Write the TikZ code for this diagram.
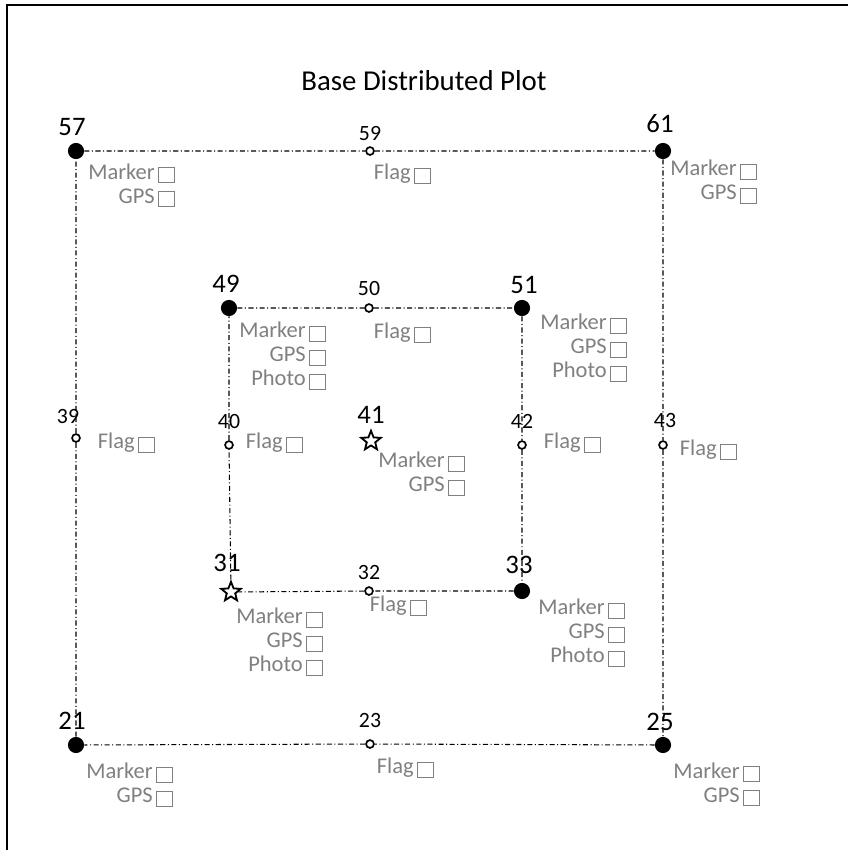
\documentclass[tikz,border=0pt]{standalone}
\usepackage{fontspec}
\setmainfont{Carlito}
\usetikzlibrary{shapes.geometric}

% empty tick box after each item
\newcommand{\tick}{\hspace{2.6pt}{\setlength{\fboxsep}{0pt}\setlength{\fboxrule}{0.7pt}\raisebox{-2.2pt}{\fbox{\rule{0pt}{10.2pt}\rule{10.2pt}{0pt}}}}}

\tikzset{
  corner/.style={circle, fill, inner sep=0pt, minimum size=11.5pt},
  flagpt/.style={circle, draw, line width=1.2pt, inner sep=0pt, minimum size=5.6pt},
  centre/.style={star, star points=5, star point ratio=2.3, draw, line width=1.3pt, inner sep=0pt, minimum size=14.5pt},
  bignum/.style={font=\fontsize{19}{22}\selectfont},
  smallnum/.style={font=\fontsize{15.5}{18}\selectfont},
  tasks/.style={anchor=east, align=right, text=gray, inner sep=0pt, font=\fontsize{16}{17.1}\selectfont},
  bound/.style={line width=0.75pt, dash pattern=on 3.6pt off 1.8pt on 0.7pt off 1.8pt}
}

\begin{document}
\begin{tikzpicture}[x=0.025cm, y=-0.025cm]
\useasboundingbox (0,0) rectangle (848,850);

% frame and title
\draw[line width=1.4pt] (7,850) -- (7,5) -- (848,5);
\node[font=\fontsize{20.5}{24}\selectfont] (title) at (424,81) {Base Distributed Plot};

% points
\node[corner] (p57) at (76,151) {};
\node[flagpt] (p59) at (370,151) {};
\node[corner] (p61) at (663,151) {};
\node[corner] (p49) at (229,308) {};
\node[flagpt] (p50) at (369,308) {};
\node[corner] (p51) at (522,308) {};
\node[flagpt] (p39) at (76,438) {};
\node[flagpt] (p40) at (229,445) {};
\node[centre] (p41) at (371,441) {};
\node[flagpt] (p42) at (522,445) {};
\node[flagpt] (p43) at (663,445) {};
\node[centre] (p31) at (231,592) {};
\node[flagpt] (p32) at (369,591) {};
\node[corner] (p33) at (522,591) {};
\node[corner] (p21) at (76,745) {};
\node[flagpt] (p23) at (370,744) {};
\node[corner] (p25) at (663,745) {};

% plot boundaries
\draw[bound] (p57) -- (p59) -- (p61) -- (p43) -- (p25) -- (p23) -- (p21) -- (p39) -- (p57);
\draw[bound] (p49) -- (p50) -- (p51) -- (p42) -- (p33) -- (p32) -- (p31) -- (p40) -- (p49);

% point numbers
\node[bignum] (n57) at (72,127) {57};
\node[smallnum] (n59) at (370,133) {59};
\node[bignum] (n61) at (660,124) {61};
\node[bignum] (n49) at (226,284) {49};
\node[smallnum] (n50) at (369,288) {50};
\node[bignum] (n51) at (524,285) {51};
\node[smallnum] (n39) at (68,416) {39};
\node[smallnum] (n40) at (229,421) {40};
\node[bignum] (n41) at (371,415) {41};
\node[smallnum] (n42) at (522,421) {42};
\node[smallnum] (n43) at (665,420) {43};
\node[bignum] (n31) at (227,563) {31};
\node[smallnum] (n32) at (369,572) {32};
\node[bignum] (n33) at (519,565) {33};
\node[bignum] (n21) at (72,721) {21};
\node[smallnum] (n23) at (370,720) {23};
\node[bignum] (n25) at (660,722) {25};

% checklists
\node[tasks] (c57) at (175,185.5) {Marker\tick\\GPS\tick};
\node[tasks] (c59) at (431,174) {Flag\tick};
\node[tasks] (c61) at (757,182) {Marker\tick\\GPS\tick};
\node[tasks] (c49) at (326,356) {Marker\tick\\GPS\tick\\Photo\tick};
\node[tasks] (c50) at (431,333) {Flag\tick};
\node[tasks] (c51) at (627,348) {Marker\tick\\GPS\tick\\Photo\tick};
\node[tasks] (c39) at (155,443) {Flag\tick};
\node[tasks] (c40) at (303,443) {Flag\tick};
\node[tasks] (c41) at (465,474) {Marker\tick\\GPS\tick};
\node[tasks] (c42) at (601,443) {Flag\tick};
\node[tasks] (c43) at (737,450) {Flag\tick};
\node[tasks] (c31) at (323,642) {Marker\tick\\GPS\tick\\Photo\tick};
\node[tasks] (c32) at (427,606) {Flag\tick};
\node[tasks] (c33) at (625,633) {Marker\tick\\GPS\tick\\Photo\tick};
\node[tasks] (c21) at (173,785) {Marker\tick\\GPS\tick};
\node[tasks] (c23) at (434,768) {Flag\tick};
\node[tasks] (c25) at (760,784.5) {Marker\tick\\GPS\tick};
\end{tikzpicture}
\end{document}
